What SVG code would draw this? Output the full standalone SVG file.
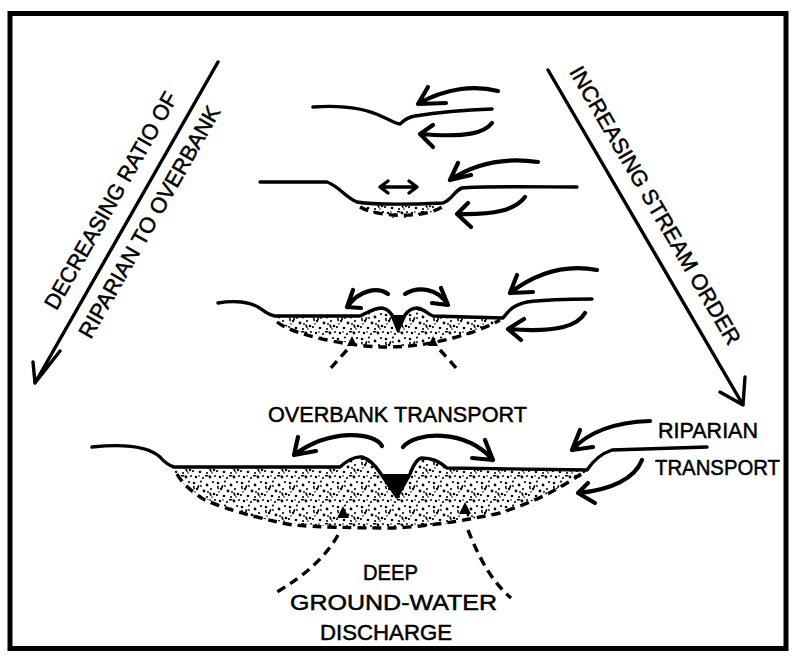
<svg xmlns="http://www.w3.org/2000/svg" width="800" height="662" viewBox="0 0 800 662">
<defs>
<pattern id="stip" width="24" height="24" patternUnits="userSpaceOnUse">
<g fill="#000">
<circle cx="2" cy="3" r="1.3"/><circle cx="9" cy="1.5" r="1.1"/><circle cx="15" cy="5" r="1.4"/><circle cx="21" cy="2" r="1.1"/>
<circle cx="5" cy="9" r="1.2"/><circle cx="12" cy="11" r="1.4"/><circle cx="19" cy="9" r="1.1"/><circle cx="1" cy="15" r="1.1"/>
<circle cx="8" cy="16" r="1.3"/><circle cx="15" cy="17" r="1.1"/><circle cx="22" cy="14" r="1.3"/><circle cx="4" cy="21" r="1.2"/>
<circle cx="11" cy="22" r="1.1"/><circle cx="18" cy="21" r="1.4"/><circle cx="23" cy="20" r="1"/>
<circle cx="9" cy="6" r="0.9"/><circle cx="16" cy="12" r="0.9"/><circle cx="3" cy="12" r="0.8"/><circle cx="20" cy="17" r="0.8"/><circle cx="7" cy="20" r="0.8"/>
<rect x="6" y="5" width="1.6" height="3.4" transform="rotate(20 6 5)"/><rect x="17" y="13" width="1.6" height="3.4" transform="rotate(-25 17 13)"/>
<rect x="13" y="19" width="3.4" height="1.5"/><rect x="1" y="6" width="1.5" height="3.2" transform="rotate(-10 1 6)"/>
</g>
</pattern>
<style>
.ln{fill:none;stroke:#000;stroke-width:3.4;stroke-linecap:round;stroke-linejoin:round}
.ar{fill:none;stroke:#000;stroke-width:4.2;stroke-linecap:round;stroke-linejoin:round}
.ds{fill:none;stroke:#000;stroke-width:3.4;stroke-dasharray:9 6}
.dep{fill:url(#stip);stroke:none}
.t{font-family:"Liberation Sans",Arial,sans-serif;font-size:22px;fill:#000;stroke:#000;stroke-width:0.5}
</style>
</defs>
<rect width="800" height="662" fill="#fff"/>
<rect x="10" y="13.5" width="776" height="635" fill="none" stroke="#000" stroke-width="5"/>

<g id="trend-arrows">
<path class="ln" d="M218,62 L35,383 M33,362 L35,383 L60,351"/>
<path class="ln" d="M548,70 L743,405 M720,392 L743,405 L745,377"/>
</g>
<g id="trend-labels">
<g transform="translate(35,383) rotate(-60.3)">
<text class="t" x="73" y="-17" textLength="246" lengthAdjust="spacingAndGlyphs">DECREASING RATIO OF</text>
<text class="t" x="65" y="27" textLength="263" lengthAdjust="spacingAndGlyphs">RIPARIAN TO OVERBANK</text>
</g>
<g transform="translate(548,70) rotate(59.8)">
<text class="t" x="12" y="-17" textLength="318" lengthAdjust="spacingAndGlyphs">INCREASING STREAM ORDER</text>
</g>
</g>

<g id="section-1">
<path class="ln" d="M313,107 C340,105 365,108 383,117 C392,121 396,124 400,124 C404,120 408,117 415,116 C440,112 465,110 492,109"/>
<path class="ar" d="M498,91 C475,85 445,88 418,104 M428,87 L418,104 L446,103"/>
<path class="ar" d="M492,123 C485,132 470,138 420,134 M433,125 L420,134 L433,147"/>
</g>

<g id="section-2">
<path class="dep" d="M358,204 C380,206 425,206 443,205 C435,212 420,218 398,218 C380,217 365,212 358,204 Z"/>
<path class="ds" d="M360,207 C375,216 420,220 442,207"/>
<path class="ln" d="M260,182 L327,182 C340,187 345,197 357,202 C375,205 420,204 443,203 C452,200 455,190 462,188 C480,186 540,187 577,187"/>
<path class="ln" d="M380,187 L417,187 M388,181 L380,187 L388,193 M409,181 L417,187 L409,193"/>
<path class="ar" d="M538,162 C510,158 480,160 450,180 M458,163 L450,180 L471,175"/>
<path class="ar" d="M525,197 C515,210 495,215 457,214 M468,203 L457,214 L471,227"/>
</g>

<g id="section-3">
<path class="dep" d="M273,316 L360,316 L373,310 L382,308 L392,315 L398,330 L405,315 L417,308 L433,315 L503,318 Q490,330 453,338 Q420,347 387,347 Q330,342 300,333 Q282,326 273,316 Z"/>
<path d="M392,315 L405,315 L398,331 Z" fill="#000"/>
<path class="ds" d="M277,322 Q290,332 327,340 Q360,347 387,347 Q420,347 453,338 Q480,331 500,320"/>
<path d="M347,346 L352,336 L357,346 Z M428,346 L433,336 L438,346 Z" fill="#000"/>
<path class="ln" d="M218,303 C235,300 250,302 258,307 C265,311 268,315 275,316 L360,316 C367,313 374,308 382,308 C387,309 390,312 392,315 L398,330 L405,315 C408,311 413,308 417,308 C424,309 428,314 433,316 L503,318 C507,313 512,305 527,302 C550,299 575,299 592,299"/>
<path class="ar" d="M388,294 C378,287 360,289 347,307 M353,290 L347,307 L361,308"/>
<path class="ar" d="M405,294 C418,286 438,288 448,305 M441,288 L448,305 L432,303"/>
<path class="ar" d="M597,270 C570,265 540,270 510,293 M517,275 L510,293 L533,292"/>
<path class="ar" d="M585,313 C578,325 560,333 508,329 M524,319 L508,329 L521,340"/>
<path class="ds" d="M347,350 L329,370 M440,350 L458,370"/>
</g>

<g id="section-4">
<path class="dep" d="M172,467 L340,467 Q352,456 362,457 Q372,460 382,474 L396,496 L408,474 Q415,458 422,458 Q435,458 447,468 L587,470 Q580,480 567,483 Q540,500 500,513 Q460,522 427,526 L360,527 Q300,526 253,517 Q210,503 190,490 Q180,482 172,467 Z"/>
<path d="M381,474 L410,474 L397,497 Z" fill="#000"/>
<path class="ds" d="M177,474 Q185,488 205,500 Q240,515 293,525 Q330,528 393,528 Q440,526 500,513 Q540,500 567,483 Q575,478 581,474"/>
<path d="M337,518 L343,506 L349,518 Z M459,514 L465,502 L471,514 Z" fill="#000"/>
<path class="ln" d="M92,447 C130,443 150,448 160,457 Q167,465 174,467 L340,467 Q352,456 362,457 Q372,460 381,474 L397,497 L410,474 Q416,458 422,458 Q436,458 447,468 L587,470 Q597,455 612,450 L707,447"/>
<path class="ar" d="M382,446 C375,432 330,428 294,455 M298,437 L294,455 L316,451"/>
<path class="ar" d="M403,447 C415,432 465,428 493,460 M485,440 L493,460 L472,458"/>
<path class="ar" d="M650,421 C620,422 590,430 572,450 M580,430 L572,450 L593,447"/>
<path class="ar" d="M642,460 C635,478 612,490 578,493 M588,483 L578,493 L595,503"/>
<path class="ds" d="M338,535 C325,558 305,575 277,592"/>
<path class="ds" d="M468,530 C478,555 490,580 511,598"/>
</g>

<g id="labels">
<text class="t" x="268" y="422" textLength="259" lengthAdjust="spacingAndGlyphs">OVERBANK TRANSPORT</text>
<text class="t" x="658" y="438" textLength="100" lengthAdjust="spacingAndGlyphs">RIPARIAN</text>
<text class="t" x="655" y="475" textLength="125" lengthAdjust="spacingAndGlyphs">TRANSPORT</text>
<text class="t" x="363" y="580" textLength="55" lengthAdjust="spacingAndGlyphs">DEEP</text>
<text class="t" x="290" y="610" textLength="207" lengthAdjust="spacingAndGlyphs">GROUND-WATER</text>
<text class="t" x="320" y="640" textLength="132" lengthAdjust="spacingAndGlyphs">DISCHARGE</text>
</g>
</svg>
